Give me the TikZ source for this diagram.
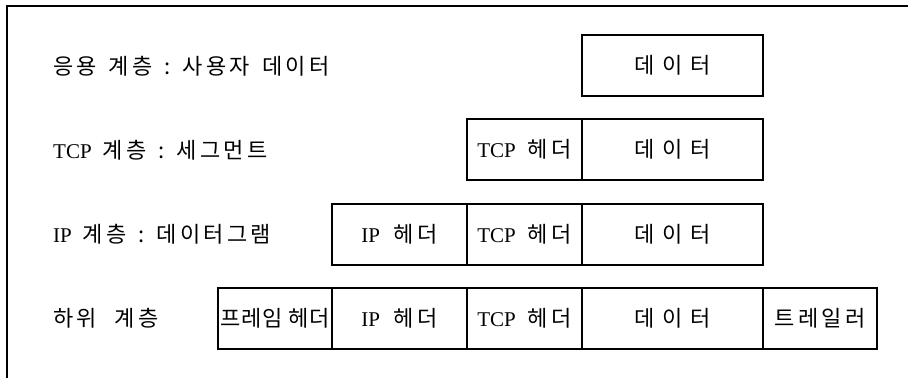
\documentclass[tikz,border=0pt]{standalone}
\usepackage{fontspec}
\setmainfont{Liberation Serif}
\newfontfamily\kr[LetterSpace=15]{Noto Sans CJK KR}
\newfontfamily\krn[LetterSpace=2]{Noto Sans CJK KR}
\newfontfamily\krw[LetterSpace=35]{Noto Sans CJK KR}
\newcommand{\ko}[1]{{\fontsize{22}{22}\selectfont\kr #1}}
\begin{document}
\begin{tikzpicture}[x=1pt,y=-1pt,
  cell/.style={draw, line width=1.1pt, minimum height=61pt, inner sep=0pt, outer sep=0pt,
    anchor=north west, font=\fontsize{21}{21}\selectfont},
  lbl/.style={anchor=west, inner sep=0pt, font=\fontsize{21}{21}\selectfont}]
\useasboundingbox (0,0) rectangle (908,378);
\draw[line width=1.2pt] (7,378) -- (7,6) -- (908,6);
% labels
\node[lbl] (l1) at (53,66) {\ko{응용\hspace{12pt}계층\hspace{12pt}:\hspace{12pt}사용자\hspace{12pt}데이터}};
\node[lbl] (l2) at (53,150) {TCP\hspace{11pt}\ko{계층\hspace{12pt}:\hspace{12pt}세그먼트}};
\node[lbl] (l3) at (53,234) {IP\hspace{11pt}\ko{계층\hspace{12pt}:\hspace{12pt}데이터그램}};
\node[lbl] (l4) at (53,318) {\ko{하위\hspace{18pt}계층}};
% row 1
\node[cell, minimum width=181pt] (r1d) at (582,35) {\ko{\krw 데이터}};
% row 2
\node[cell, minimum width=115pt] (r2t) at (467,119) {TCP\hspace{12pt}\ko{헤더}};
\node[cell, minimum width=181pt] (r2d) at (582,119) {\ko{\krw 데이터}};
% row 3
\node[cell, minimum width=135pt] (r3i) at (332,204) {IP\hspace{14pt}\ko{헤더}};
\node[cell, minimum width=115pt] (r3t) at (467,204) {TCP\hspace{12pt}\ko{헤더}};
\node[cell, minimum width=181pt] (r3d) at (582,204) {\ko{\krw 데이터}};
% row 4
\node[cell, minimum width=114pt] (r4f) at (218,288) {\ko{\krn 프레임\hspace{6pt}헤더}};
\node[cell, minimum width=135pt] (r4i) at (332,288) {IP\hspace{14pt}\ko{헤더}};
\node[cell, minimum width=115pt] (r4t) at (467,288) {TCP\hspace{12pt}\ko{헤더}};
\node[cell, minimum width=181pt] (r4d) at (582,288) {\ko{\krw 데이터}};
\node[cell, minimum width=114pt] (r4r) at (763,288) {\ko{트레일러}};
\end{tikzpicture}
\end{document}
